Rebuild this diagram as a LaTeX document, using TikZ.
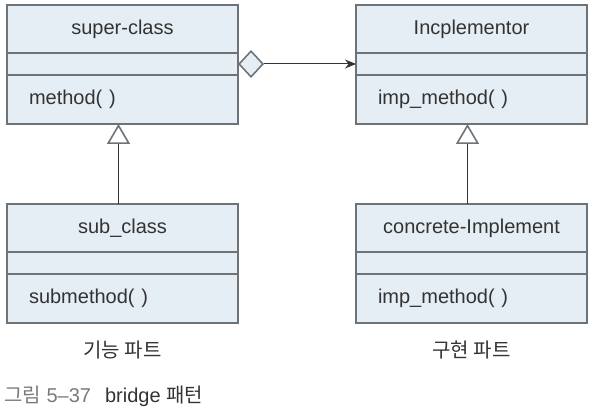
\documentclass[tikz,border=0pt]{standalone}
\usepackage{fontspec}
\setmainfont{Liberation Sans}
\newfontfamily\kofont{Noto Sans CJK KR}
\usepackage{xcolor}
\usetikzlibrary{arrows.meta,positioning}
\definecolor{frame}{HTML}{6E7378}
\definecolor{pane}{HTML}{E6EEF5}
\definecolor{ink}{HTML}{333333}
\definecolor{dim}{HTML}{7A7A7A}
\tikzset{
  cell/.style={rectangle, draw=frame, fill=pane, line width=1.8pt, outer sep=0pt,
               minimum width=231pt, inner xsep=22pt, inner ysep=0pt,
               text=ink, font=\fontsize{20}{22}\selectfont},
  clshead/.style={cell, minimum height=48pt},
  clsgap/.style={cell, minimum height=22pt},
  clsop/.style={cell, minimum height=49pt, text width=187pt, align=left},
  part/.style={font=\kofont\fontsize{20}{22}\selectfont, text=ink},
  aggr/.style={{Diamond[open, length=26pt, width=28pt, color=frame, fill=pane, line width=1.6pt]}-{Stealth[length=11pt, width=9pt]},
               draw=ink, line width=1pt},
  inh/.style={-{Triangle[open, length=20pt, width=23pt, color=frame, fill=white, line width=1.6pt]},
              draw=ink, line width=1pt}
}

\begin{document}
\begin{tikzpicture}[x=1pt, y=-1pt]
  \useasboundingbox (0,0) rectangle (593,414);
  % abstraction side
  \node[clshead, anchor=north] (super) at (122.5,5) {super-class};
  \node[clsgap, below=0pt of super] (superA) {};
  \node[clsop, below=0pt of superA] (superB) {method( )};
  \node[clshead, anchor=north] (sub) at (122.5,204) {sub\_class};
  \node[clsgap, below=0pt of sub] (subA) {};
  \node[clsop, below=0pt of subA] (subB) {submethod( )};
  % implementation side
  \node[clshead, anchor=north] (impl) at (471.5,5) {Incplementor};
  \node[clsgap, below=0pt of impl] (implA) {};
  \node[clsop, below=0pt of implA] (implB) {imp\_method( )};
  \node[clshead, anchor=north] (conc) at (471.5,204) {concrete-Implement};
  \node[clsgap, below=0pt of conc] (concA) {};
  \node[clsop, below=0pt of concA] (concB) {imp\_method( )};
  % labels
  \node[part] (left) at (122.5,350) {기능 파트};
  \node[part] (right) at (471.5,350) {구현 파트};
  \node[anchor=west, inner sep=0pt, font=\fontsize{20}{22}\selectfont] (cap) at (4,396)
    {\textcolor{dim}{{\kofont 그림} 5–37}\hspace{14pt}\textcolor{ink}{bridge {\kofont 패턴}}};
  % relations
  \draw[aggr] (superA.east) -- (implA.west);
  \draw[inh] ([xshift=-4pt]sub.north) -- ([xshift=-4pt]superB.south);
  \draw[inh] ([xshift=-4pt]conc.north) -- ([xshift=-4pt]implB.south);
\end{tikzpicture}
\end{document}
